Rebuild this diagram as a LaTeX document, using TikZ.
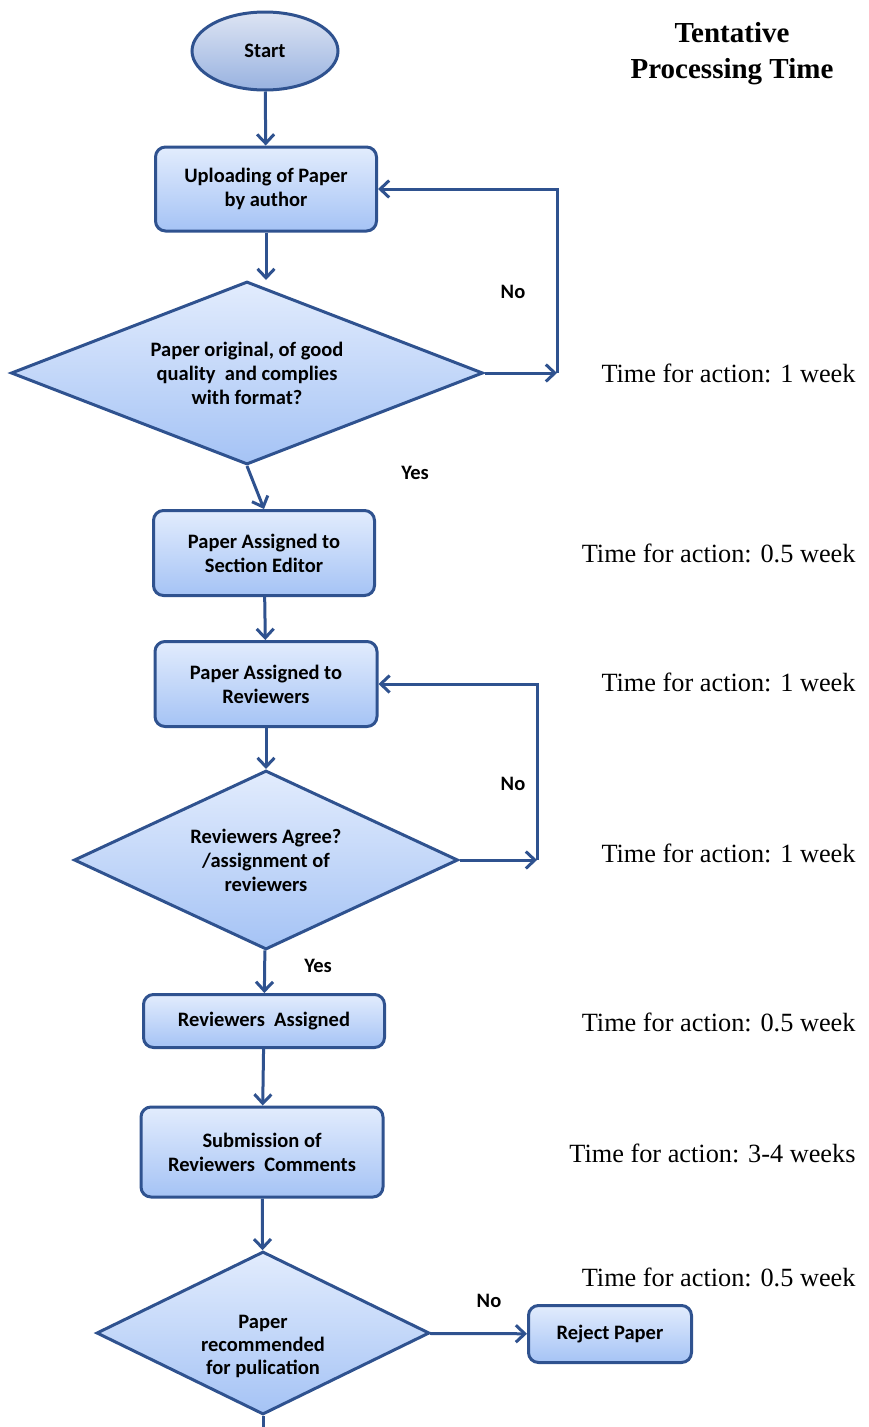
\documentclass[tikz,border=0pt]{standalone}
\usepackage{fontspec}
\setmainfont{Liberation Serif}
\newfontfamily\boxfont{Carlito}
\usepackage{tikz}
\usetikzlibrary{shapes.geometric}
\usetikzlibrary{arrows.meta}
\definecolor{edgeblue}{RGB}{47,82,143}
\definecolor{boxtop}{RGB}{226,236,253}
\definecolor{boxbot}{RGB}{165,195,245}
\definecolor{ovaltop}{RGB}{221,228,243}
\definecolor{ovalbot}{RGB}{152,178,224}

\begin{document}
\begin{tikzpicture}[x=1pt,y=-1pt,
    flowtext/.style={font=\boxfont\bfseries\fontsize{20.5}{24}\selectfont,align=center},
    procbox/.style={flowtext,draw=edgeblue,line width=3pt,rounded corners=10pt,
      top color=boxtop,bottom color=boxbot,inner sep=0pt},
    decision/.style={flowtext,diamond,draw=edgeblue,line width=3pt,
      top color=boxtop,bottom color=boxbot,inner sep=0pt},
    startoval/.style={flowtext,ellipse,draw=edgeblue,line width=3pt,
      top color=ovaltop,bottom color=ovalbot,inner sep=0pt,
      minimum width=146pt,minimum height=78pt},
    timetext/.style={anchor=east,font=\fontsize{26.3}{30}\selectfont},
    flow/.style={draw=edgeblue,line width=3pt,-{Straight Barb[length=9pt,width=17pt]}},
    link/.style={draw=edgeblue,line width=3pt}]
    \useasboundingbox (0,0) rectangle (868,1427);

    \node[startoval] (start) at (265,51) {Start};
    \node[procbox,minimum width=221pt,minimum height=84pt] (upload) at (266,189) {Uploading of Paper\\by author};
    \node[decision,aspect=2.58,minimum width=472pt,minimum height=183pt] (chk1) at (247,373) {Paper original, of good\\quality \ and complies\\with format?};
    \node[procbox,minimum width=221pt,minimum height=85pt] (editor) at (264,553) {Paper Assigned to\\Section Editor};
    \node[procbox,minimum width=222pt,minimum height=85pt] (reviewers) at (266,684) {Paper Assigned to\\Reviewers};
    \node[decision,aspect=2.15,minimum width=384pt,minimum height=179pt] (chk2) at (266,860) {Reviewers Agree?\\/assignment of\\reviewers};
    \node[procbox,minimum width=241pt,minimum height=53pt] (assigned) at (264,1021) {Reviewers \ Assigned};
    \node[procbox,minimum width=242pt,minimum height=90pt] (comments) at (262,1152) {Submission of\\Reviewers \ Comments};
    \node[decision,aspect=2.04,minimum width=333pt,minimum height=163pt,
      label={[flowtext,font=\boxfont\bfseries\fontsize{20.5}{23}\selectfont,yshift=-13pt]center:{Paper\\recommended\\for pulication}}] (chk3) at (263,1333) {};
    \node[procbox,minimum width=163pt,minimum height=57pt] (reject) at (610,1334) {Reject Paper};

    \coordinate (loop1) at (557,373);
    \coordinate (loop2) at (537,860);
    \coordinate (out) at (263,1432);

    \draw[flow] (start) -- (upload);
    \draw[flow] (upload.south) -- (upload.south |- chk1.north);
    \draw[flow] (chk1.east) -- (loop1);
    \draw[flow] (loop1) |- (upload.east);
    \draw[flow] (chk1.south) -- (editor.north);
    \draw[flow] (editor) -- (reviewers);
    \draw[flow] (reviewers) -- (chk2);
    \draw[flow] (chk2.east) -- (loop2);
    \draw[flow] (loop2) |- (reviewers.east);
    \draw[flow] (chk2) -- (assigned);
    \draw[flow] (assigned) -- (comments);
    \draw[flow] (comments) -- (chk3);
    \draw[flow] (chk3) -- (reject);
    \draw[link] (chk3.south) -- (out);

    \node[flowtext] (no1) at (513,292) {No};
    \node[flowtext] (yes1) at (415,473) {Yes};
    \node[flowtext] (no2) at (513,784) {No};
    \node[flowtext] (yes2) at (318,966) {Yes};
    \node[flowtext] (no3) at (489,1301) {No};

    \node[align=center,font=\bfseries\fontsize{29}{36}\selectfont] (title) at (732,54) {Tentative\\Processing Time};
    \node[timetext] (t1) at (859,373) {Time for action: 1 week};
    \node[timetext] (t2) at (859,553) {Time for action: 0.5 week};
    \node[timetext] (t3) at (859,682) {Time for action: 1 week};
    \node[timetext] (t4) at (859,853) {Time for action: 1 week};
    \node[timetext] (t5) at (859,1022) {Time for action: 0.5 week};
    \node[timetext] (t6) at (859,1153) {Time for action: 3-4 weeks};
    \node[timetext] (t7) at (859,1277) {Time for action: 0.5 week};
\end{tikzpicture}
\end{document}
